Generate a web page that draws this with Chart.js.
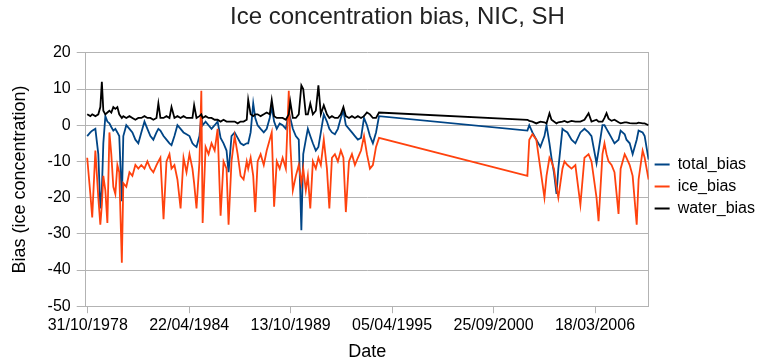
<!DOCTYPE html>
<html>
<head>
<meta charset="utf-8">
<script src="https://cdn.jsdelivr.net/npm/chart.js@4.4.1/dist/chart.umd.min.js"></script>
<style>
  html, body { margin: 0; padding: 0; background: #fff; }
  #wrap { width: 770px; height: 363px; }
</style>
</head>
<body>
<div id="wrap"><canvas id="chart" width="770" height="363"></canvas></div>
<script>
// dates as decimal years (gap 1994.5 - 2002.5 has no data)
const dates = [
  1978.80, 1978.97, 1979.07, 1979.24, 1979.40, 1979.51, 1979.59, 1979.67, 1979.78, 1979.89,
  1980.00, 1980.10, 1980.21, 1980.32, 1980.43, 1980.53, 1980.67, 1980.75, 1980.91, 1981.08,
  1981.24, 1981.40, 1981.56, 1981.72, 1981.89, 1982.05, 1982.21, 1982.37, 1982.54, 1982.64,
  1982.75, 1982.92, 1983.08, 1983.24, 1983.35, 1983.51, 1983.67, 1983.84, 1984.00, 1984.16,
  1984.32, 1984.48, 1984.57, 1984.70, 1984.86, 1984.96, 1985.03, 1985.19, 1985.35, 1985.51,
  1985.68, 1985.84, 1986.00, 1986.16, 1986.32, 1986.43, 1986.59, 1986.76, 1986.92, 1987.08,
  1987.24, 1987.41, 1987.49, 1987.62, 1987.76, 1987.87, 1988.00, 1988.16, 1988.33, 1988.49,
  1988.65, 1988.76, 1988.89, 1989.03, 1989.19, 1989.35, 1989.52, 1989.68, 1989.76, 1989.90,
  1990.06, 1990.22, 1990.36, 1990.46, 1990.60, 1990.71, 1990.84, 1990.98, 1991.14, 1991.28,
  1991.41, 1991.57, 1991.74, 1991.87, 1992.01, 1992.17, 1992.33, 1992.49, 1992.63, 1992.76,
  1992.93, 1993.09, 1993.25, 1993.41, 1993.58, 1993.74, 1993.90, 1994.06, 1994.22, 1994.39,
  1994.55,
  2002.56, 2002.66, 2002.83, 2003.04, 2003.26, 2003.48, 2003.59, 2003.75, 2003.86, 2003.99,
  2004.13, 2004.23, 2004.45, 2004.56, 2004.72, 2004.94, 2005.15, 2005.42, 2005.64, 2005.86,
  2006.02, 2006.29, 2006.40, 2006.61, 2006.72, 2006.83, 2006.94, 2007.10, 2007.26, 2007.48,
  2007.59, 2007.81, 2007.91, 2008.08, 2008.24, 2008.46, 2008.56, 2008.78, 2008.89, 2009.10
];

const totalBias = [
  -3, -2, -1.5, -1, -8, -23, -18, -5, 2.5, 1,
  0.5, -0.5, -1.5, -1, -2, -3, -21, -3, 0, -1,
  -2, -4, -5, -2, 1, -1, -3, -4, -2, -1,
  -1.5, -3, -4, -5, -5.5, -3, 0, -1, -2, -2.5,
  -3, -5, -5.5, -6, -3, 2.5, 0, 1, 0, -1,
  0, 1, -3.5, -5, -7, -13, -3, -2, -3.5, -5,
  -5.5, -5, -5, -2, 6, 2, 0, -1, -2, -1,
  2, 5, 1, -1, 0.5, 0, -1, 3.5, 2, -1,
  -3, -4, -29, -8, -4, -1, -3, -5, -7, -6,
  -2, 3, 1, -1, -2, -2.5, -1, 2, 4, 0,
  -1, -2, -3, -4, -3.5, 2, 0, -3, -5, -2,
  2.5,
  -1.5, 0, -2, -4, -6, -3, 0, -5, -9, -13,
  -19, -12, -1, -1.5, -2, -4, -5, -2, -1, -2,
  -3, -10.5, -7, 0, 0, -1, -2, -3.5, -5, -4,
  -1.5, -2.5, -4, -5, -8, -4, -1.5, -2, -3, -9.5
];

const iceBias = [
  -9, -19, -25.5, -7, -20, -27.5, -22, -14, -18, -27,
  -2, -8, -17, -19, -11, -13, -38, -16, -17, -13,
  -14, -11, -12, -11, -12, -10, -12, -13, -11, -10,
  -9, -26, -10, -8, -12, -11, -15, -23, -9, -13,
  -8, -12, -16, -23, -10, 9.5, -27, -6, -8, -5,
  -7, -1, -25, -10, -12, -27.5, -10, -3, -8, -14,
  -15, -10, -12, -9, -14, -24, -10, -8, -11, -7,
  -4, -2, -22.5, -10, -12, -9, -12, 9.5, -5, -18,
  -14, -11, -16, -12, -18, -14, -23, -10, -12, -9,
  -11, -4, -12, -23, -9, -8, -10, -7, -9, -24,
  -10, -8, -11, -9, -7, -3, -8, -12, -11, -6,
  -3.5,
  -14, -4, -2.5, -4, -12, -20, -14, -9, -10, -12,
  -17, -20, -12, -10, -11, -12, -11, -22, -9, -8,
  -10, -20, -26.5, -8, -5, -8, -10, -11, -13, -24.5,
  -12, -8, -9, -11, -14, -27.5, -15, -7, -9, -15
];

const waterBias = [
  3, 2.5, 3, 2.5, 3, 5, 12, 4, 3, 3.5,
  4, 3.5, 5, 4.5, 5, 3, 2, 2.5, 2, 2.5,
  2, 1.5, 2, 2, 2.5, 2, 2, 1.5, 2, 6,
  2, 2, 2.5, 2, 5, 2, 2.5, 2, 2.5, 2,
  2, 2, 5.5, 2, 2.5, 3, 2, 2.5, 2, 2,
  1.5, 1.5, 1, 1.5, 1, 1, 1, 1, 0.5, 1,
  1, 1.5, 7, 3, 2.5, 3, 3, 2.5, 3, 3.5,
  3, 7, 2.5, 2, 2, 2, 1.5, 3, 6.5, 2,
  2, 3, 11, 10, 3, 3, 6, 3, 4, 11,
  3, 5.5, 3, 2, 2.5, 2, 2, 3, 5, 2.5,
  2, 2.5, 2, 2.5, 2, 2.5, 3.5, 3, 2, 2,
  3.5,
  1.5, 1.2, 1, 0.5, 1, 0.8, 0.5, 3.3, 1.5, 1,
  0.5, 0.8, 1, 1.2, 0.8, 1.2, 1, 1, 1.5, 3.3,
  1, 1.5, 1, 1, 2, 3.3, 1.8, 1.2, 1.5, 0.8,
  0.5, 0.8, 0.8, 0.6, 0.5, 0.5, 0.7, 0.5, 0.5, 0
];

// x axis runs in days after 31/10/1978
const startYear = 1978.83;
const xTickDays = [0, 2000, 4000, 6000, 8000, 10000];
const xTickLabels = ["31/10/1978", "22/04/1984", "13/10/1989", "05/04/1995", "25/09/2000", "18/03/2006"];

const toPoints = vals => dates.map((d, i) => ({ x: Math.round((d - startYear) * 365.25), y: vals[i] }));

const gridColor = "#b3b3b3";
const font = "'Liberation Sans', Arial, sans-serif";

new Chart(document.getElementById("chart"), {
  type: "line",
  data: {
    datasets: [
      { label: "total_bias", data: toPoints(totalBias), borderColor: "#004586", backgroundColor: "#004586", order: 3 },
      { label: "ice_bias", data: toPoints(iceBias), borderColor: "#ff420e", backgroundColor: "#ff420e", order: 2 },
      { label: "water_bias", data: toPoints(waterBias), borderColor: "#000000", backgroundColor: "#000000", order: 1 }
    ]
  },
  options: {
    responsive: false,
    animation: false,
    devicePixelRatio: 1,
    // left padding only pushes the main title towards the centre of the picture
    layout: { padding: { left: 30, right: 5, top: 0, bottom: 0 } },
    elements: {
      line: { borderWidth: 1.8, tension: 0 },
      point: { radius: 0 }
    },
    plugins: {
      title: {
        display: true,
        text: "Ice concentration bias, NIC, SH",
        color: "#222",
        font: { family: font, size: 24, weight: "normal" },
        padding: { top: 3, bottom: 21 }
      },
      legend: {
        position: "right",
        title: { display: true, text: "", font: { size: 1 }, padding: { top: 0, bottom: 9 } },
        labels: {
          usePointStyle: true,
          pointStyle: "line",
          pointStyleWidth: 15,
          padding: 6,
          color: "#000",
          font: { family: font, size: 16 },
          generateLabels: chart => chart.data.datasets.map((ds, i) => ({
            text: ds.label,
            datasetIndex: i,
            fillStyle: ds.borderColor,
            strokeStyle: ds.borderColor,
            lineWidth: 2,
            pointStyle: "line",
            hidden: false,
            fontColor: "#000"
          }))
        }
      },
      tooltip: { enabled: false }
    },
    scales: {
      x: {
        type: "linear",
        min: -40,
        max: 11057,
        afterBuildTicks: axis => { axis.ticks = xTickDays.map(v => ({ value: v })); },
        ticks: {
          autoSkip: false,
          maxRotation: 0,
          padding: 3,
          color: "#000",
          font: { family: font, size: 16 },
          callback: value => xTickLabels[xTickDays.indexOf(value)]
        },
        grid: { drawOnChartArea: false, color: gridColor, tickLength: 7 },
        border: { color: gridColor },
        title: {
          display: true,
          text: "Date",
          color: "#000",
          font: { family: font, size: 18 },
          padding: { top: 3, bottom: 0 }
        }
      },
      y: {
        min: -50,
        max: 20,
        ticks: { stepSize: 10, padding: 6, color: "#000", font: { family: font, size: 16 } },
        grid: { color: gridColor, tickLength: 9 },
        border: { color: gridColor },
        title: {
          display: true,
          text: "Bias (ice concentration)",
          color: "#000",
          font: { family: font, size: 18 },
          padding: { top: -21, bottom: 11 }
        }
      },
      y2: {
        position: "right",
        min: 0,
        max: 1,
        ticks: { display: false },
        grid: { drawOnChartArea: false, drawTicks: false },
        border: { color: gridColor }
      }
    }
  }
});
</script>
</body>
</html>
